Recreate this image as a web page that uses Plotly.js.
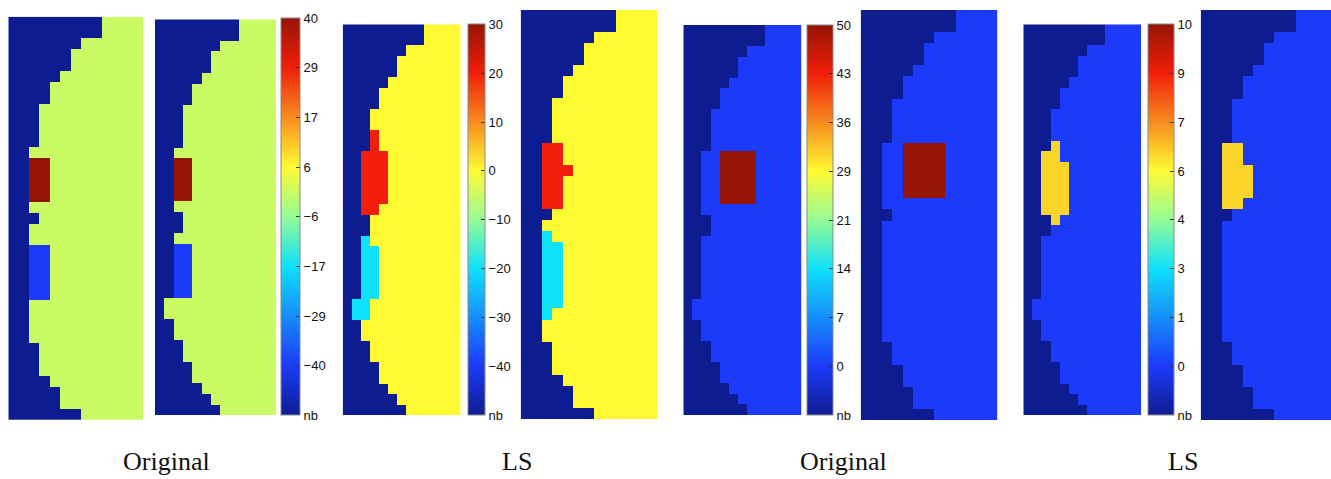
<!DOCTYPE html>
<html>
<head>
<meta charset="utf-8">
<script src="https://cdn.plot.ly/plotly-3.0.1.min.js"></script>
<style>html,body{margin:0;padding:0;background:#fff;}#chart{width:1331px;height:479px;}</style>
</head>
<body>
<div id="chart"></div>
<script>
// ---- grid: 13 columns x 37 rows per panel ----
const nCols = 13, nRows = 37;

// number of "nb" (no-blood) cells from the left edge in each row, read per panel
const p1_nb = [9,9,7,6,6,5,4,4,3,3,3,3,2,2,2,2,2,2,3,2,2,2,2,2,2,2,2,2,2,2,3,3,3,4,5,5,7];
const p2_nb = [9,9,7,6,6,5,4,4,3,3,3,3,2,2,2,2,2,2,3,3,2,2,2,2,2,2,1,1,2,2,3,3,4,4,5,6,7];
const p3_nb = [9,9,7,6,6,5,4,4,3,3,3,3,2,2,2,2,2,2,3,3,2,2,2,2,2,2,1,1,2,2,3,3,4,4,5,6,7];
const p4_nb = [9,9,7,6,6,5,4,4,3,3,3,3,2,2,2,2,2,2,3,2,2,2,2,2,2,2,2,2,2,2,3,3,3,4,5,5,7];
const p5_nb = [9,9,7,6,6,5,4,4,3,3,3,3,2,2,2,2,2,2,3,3,2,2,2,2,2,2,1,1,2,2,3,3,4,4,5,6,7];
const p6_nb = [9,9,7,6,6,5,4,4,3,3,3,3,2,2,2,2,2,2,3,2,2,2,2,2,2,2,2,2,2,2,3,3,4,4,5,5,7];
const p7_nb = [9,9,7,6,6,5,4,4,3,3,3,3,2,2,2,2,2,2,3,3,2,2,2,2,2,2,1,1,2,2,3,3,4,4,5,6,7];
const p8_nb = [9,9,7,6,6,5,4,4,3,3,3,3,2,2,2,2,2,2,3,2,2,2,2,2,2,2,2,2,2,2,3,3,4,4,5,5,7];

// anomaly cells: [row, firstCol, lastCol]
const p1_hot  = [[13,2,3],[14,2,3],[15,2,3],[16,2,3]];
const p1_cold = [[21,2,3],[22,2,3],[23,2,3],[24,2,3],[25,2,3]];
const p2_hot  = [[13,2,3],[14,2,3],[15,2,3],[16,2,3]];
const p2_cold = [[21,2,3],[22,2,3],[23,2,3],[24,2,3],[25,2,3]];
const p3_hot  = [[10,3,3],[11,3,3],[12,2,4],[13,2,4],[14,2,4],[15,2,4],[16,2,4],[17,2,3]];
const p3_cold = [[20,2,2],[21,2,3],[22,2,3],[23,2,3],[24,2,3],[25,2,3],[26,1,2],[27,1,2]];
const p4_hot  = [[12,2,3],[13,2,3],[14,2,4],[15,2,3],[16,2,3],[17,2,3]];
const p4_cold = [[20,2,2],[21,2,3],[22,2,3],[23,2,3],[24,2,3],[25,2,3],[26,2,3],[27,2,2]];
const p5_hot  = [[12,4,7],[13,4,7],[14,4,7],[15,4,7],[16,4,7]];
const p6_hot  = [[12,4,7],[13,4,7],[14,4,7],[15,4,7],[16,4,7]];
const p7_hot  = [[11,3,3],[12,2,3],[13,2,4],[14,2,4],[15,2,4],[16,2,4],[17,2,4],[18,3,3]];
const p8_hot  = [[12,2,3],[13,2,3],[14,2,4],[15,2,4],[16,2,4],[17,2,3]];

// values per group (nb = bottom of colour scale)
const g1 = {nb:-51.43, bg:0, hot:40, cold:-40};
const g2 = {nb:-50, bg:0, hot:20, cold:-20};
const g3 = {nb:-7.14, bg:0, hot:50};
const g4 = {nb:-1.43, bg:0, hot:6.2};

// colour bar ticks
const cb1_vals = [-51.43,-40,-28.57,-17.14,-5.71,5.71,17.14,28.57,40];
const cb1_text = ['nb','\u221240','\u221229','\u221217','\u22126','6','17','29','40'];
const cb2_vals = [-50,-40,-30,-20,-10,0,10,20,30];
const cb2_text = ['nb','\u221240','\u221230','\u221220','\u221210','0','10','20','30'];
const cb3_vals = [-7.14,0,7.14,14.29,21.43,28.57,35.71,42.86,50];
const cb3_text = ['nb','0','7','14','21','29','36','43','50'];
const cb4_vals = [-1.43,0,1.43,2.86,4.29,5.71,7.14,8.57,10];
const cb4_text = ['nb','0','1','3','4','6','7','9','10'];

const labels = ['Original','LS','Original','LS'];

// ---- layout geometry (pixels) ----
const W = 1331, H = 479;
const panels = [
  {x0:8.3,  x1:143.3, y0:16.7, y1:420,  cols:13},
  {x0:155,  x1:276,   y0:19.3, y1:415,  cols:13},
  {x0:342.7,x1:460.7, y0:24.3, y1:415,  cols:13},
  {x0:520.7,x1:657.3, y0:10,   y1:419.3,cols:13},
  {x0:683.3,x1:801.7, y0:25,   y1:415,  cols:13},
  {x0:860.7,x1:997.3, y0:10,   y1:420,  cols:13},
  {x0:1023.3,x1:1141, y0:24.3, y1:415,  cols:13},
  {x0:1200.7,x1:1331, y0:10,   y1:420,  cols:12.34}
];
const cbars = [
  {x0:281,   x1:300,   y0:18.3, y1:415},
  {x0:467.7, x1:485,   y0:24.3, y1:415},
  {x0:807.3, x1:833.3, y0:25,   y1:415},
  {x0:1147.7,x1:1173.3,y0:24.3, y1:415}
];
const labelX = [166, 517, 843, 1183];

const jet = [
  [0,'rgb(14,28,145)'],
  [0.125,'rgb(28,58,250)'],
  [0.375,'rgb(15,225,250)'],
  [0.5,'rgb(150,252,150)'],
  [0.625,'rgb(255,250,50)'],
  [0.875,'rgb(240,30,10)'],
  [1,'rgb(150,20,5)']
];

function build(nb, g, hot, cold) {
  const z = [];
  for (let r = 0; r < nRows; r++) {
    const row = [];
    for (let c = 0; c < nCols; c++) row.push(c < nb[r] ? g.nb : g.bg);
    z.push(row);
  }
  (hot || []).forEach(([r,a,b]) => { for (let c=a;c<=b;c++) z[r][c] = g.hot; });
  (cold || []).forEach(([r,a,b]) => { for (let c=a;c<=b;c++) z[r][c] = g.cold; });
  return z;
}

const zs = [
  build(p1_nb,g1,p1_hot,p1_cold), build(p2_nb,g1,p2_hot,p2_cold),
  build(p3_nb,g2,p3_hot,p3_cold), build(p4_nb,g2,p4_hot,p4_cold),
  build(p5_nb,g3,p5_hot), build(p6_nb,g3,p6_hot),
  build(p7_nb,g4,p7_hot), build(p8_nb,g4,p8_hot)
];
const groups = [g1,g1,g2,g2,g3,g3,g4,g4];
const groupMax = [40,40,30,30,50,50,10,10];
const cbVals = [cb1_vals,cb2_vals,cb3_vals,cb4_vals];
const cbText = [cb1_text,cb2_text,cb3_text,cb4_text];
const cbOwner = [0,2,4,6];

const colIdx = Array.from({length:nCols},(_,i)=>i);
const rowIdx = Array.from({length:nRows},(_,i)=>i);

const data = [];
const layout = {
  width: W, height: H,
  margin: {l:0,r:0,t:0,b:0},
  paper_bgcolor: '#ffffff', plot_bgcolor: '#ffffff',
  showlegend: false,
  annotations: []
};

panels.forEach((p, i) => {
  const k = i === 0 ? '' : String(i+1);
  const tr = {
    type: 'heatmap',
    z: zs[i], x: colIdx, y: rowIdx,
    xaxis: 'x'+k, yaxis: 'y'+k,
    zmin: groups[i].nb, zmax: groupMax[i],
    colorscale: jet, zsmooth: false,
    showscale: false, hoverinfo: 'skip'
  };
  const ci = cbOwner.indexOf(i);
  if (ci >= 0) {
    const cb = cbars[ci];
    tr.showscale = true;
    tr.colorbar = {
      x: cb.x0 / W, xanchor: 'left',
      y: 1 - cb.y0 / H, yanchor: 'top',
      len: (cb.y1 - cb.y0) / H, lenmode: 'fraction',
      thickness: cb.x1 - cb.x0, thicknessmode: 'pixels',
      xpad: 0, ypad: 0,
      outlinewidth: 1, outlinecolor: '#8a8a8a',
      tickmode: 'array', tickvals: cbVals[ci], ticktext: cbText[ci],
      ticks: 'inside', ticklen: 4, tickcolor: '#333', tickwidth: 1,
      tickfont: {family: 'Liberation Sans, Arial, sans-serif', size: 13, color: '#111'}
    };
  }
  data.push(tr);
  layout['xaxis'+k] = {
    domain: [p.x0/W, p.x1/W], range: [-0.5, p.cols - 0.5],
    anchor: 'y'+k, visible: false, fixedrange: true
  };
  layout['yaxis'+k] = {
    domain: [1 - p.y1/H, 1 - p.y0/H], range: [nRows - 0.5, -0.5],
    anchor: 'x'+k, visible: false, fixedrange: true
  };
});

labels.forEach((t, i) => {
  layout.annotations.push({
    text: t, x: labelX[i]/W, y: 1 - 468/H, xref: 'paper', yref: 'paper',
    xanchor: 'center', yanchor: 'bottom', yshift: -10, showarrow: false,
    font: {family: 'Liberation Serif, Times New Roman, serif', size: 26, color: '#111'}
  });
});

Plotly.newPlot('chart', data, layout, {displayModeBar: false, staticPlot: true});
</script>
</body>
</html>
